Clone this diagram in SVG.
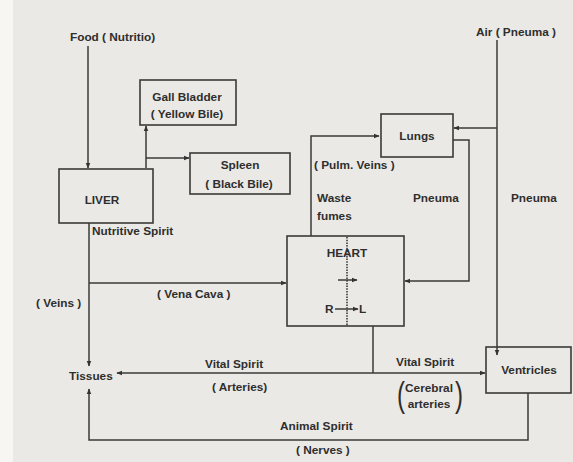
<svg xmlns="http://www.w3.org/2000/svg" width="573" height="462" viewBox="0 0 573 462">
<style>
.t{font-family:"Liberation Sans",Arial,sans-serif;font-weight:bold;font-size:11.8px;fill:#2e2e2e}
.c{text-anchor:middle}
.b{fill:none;stroke:#3a3a3a;stroke-width:1.6}
.l{fill:none;stroke:#3a3a3a;stroke-width:1.5}
.p{font-family:"Liberation Sans",Arial,sans-serif;font-weight:normal;font-size:24px;fill:#2e2e2e}
</style>
<defs>
<marker id="a" viewBox="0 0 10 10" refX="9" refY="5" markerWidth="6" markerHeight="6" markerUnits="userSpaceOnUse" orient="auto">
<path d="M0,1 L10,5 L0,9 Z" fill="#333"/>
</marker>
</defs>
<rect width="573" height="462" fill="#f7f6f3"/>
<rect x="13" y="0" width="560" height="462" fill="#ebe9e5"/>

<g id="connectors">
<path class="l" d="M88,46 V168" marker-end="url(#a)"/>
<path class="l" d="M146,168 V126" marker-end="url(#a)"/>
<path class="l" d="M146,158 H189" marker-end="url(#a)"/>
<path class="l" d="M89,223 V366" marker-end="url(#a)"/>
<path class="l" d="M89,283 H286" marker-end="url(#a)"/>
<path class="l" d="M373,326 V373"/>
<path class="l" d="M373,373 H117" marker-end="url(#a)"/>
<path class="l" d="M373,373 H485" marker-end="url(#a)"/>
<path class="l" d="M528,393 V440 H89 V389" marker-end="url(#a)"/>
<path class="l" d="M311,236 V136 H379" marker-end="url(#a)"/>
<path class="l" d="M453,140 H469 V281 H405" marker-end="url(#a)"/>
<path class="l" d="M497,40 V355" marker-end="url(#a)"/>
<path class="l" d="M497,128 H454" marker-end="url(#a)"/>
</g>

<g id="food"><text class="t" x="70" y="41">Food ( Nutritio)</text></g>
<g id="gall-bladder">
<rect class="b" x="140" y="80" width="96" height="45"/>
<text class="t c" x="187" y="101">Gall Bladder</text>
<text class="t c" x="187" y="118">( Yellow Bile)</text>
</g>
<g id="spleen">
<rect class="b" x="190" y="153" width="100" height="41"/>
<text class="t c" x="240" y="169">Spleen</text>
<text class="t c" x="239" y="188">( Black Bile)</text>
</g>
<g id="liver">
<rect class="b" x="59" y="169" width="94" height="54"/>
<text class="t c" x="102" y="204">LIVER</text>
</g>
<g id="labels-left">
<text class="t" x="92" y="235">Nutritive Spirit</text>
<text class="t" x="36" y="307">( Veins )</text>
<text class="t" x="157" y="298">( Vena Cava )</text>
<text class="t" x="205" y="368">Vital Spirit</text>
<text class="t" x="212" y="391">( Arteries)</text>
<text class="t" x="280" y="430">Animal Spirit</text>
<text class="t" x="296" y="454">( Nerves )</text>
</g>
<g id="tissues"><text class="t" x="69" y="380">Tissues</text></g>
<g id="heart">
<rect class="b" x="287" y="236" width="117" height="90"/>
<path d="M347,237 V325" fill="none" stroke="#3a3a3a" stroke-width="1.6" stroke-dasharray="1.5,1.2"/>
<text class="t c" x="347" y="257">HEART</text>
<path class="l" d="M338,280 H357" marker-end="url(#a)"/>
<text class="t" x="325" y="313">R</text>
<path class="l" d="M335,309 H358" marker-end="url(#a)"/>
<text class="t" x="359" y="313">L</text>
</g>
<g id="lungs">
<rect class="b" x="381" y="114" width="72" height="43"/>
<text class="t c" x="417" y="140">Lungs</text>
</g>
<g id="labels-right">
<text class="t" x="314" y="169">( Pulm. Veins )</text>
<text class="t" x="317" y="202">Waste</text>
<text class="t" x="317" y="220">fumes</text>
<text class="t" x="413" y="202">Pneuma</text>
<text class="t" x="511" y="202">Pneuma</text>
<text class="t" x="476" y="36">Air ( Pneuma )</text>
<text class="t" x="396" y="366">Vital Spirit</text>
<text class="p" transform="translate(397,407) scale(1,1.5)" x="0" y="0">(</text>
<text class="t c" x="429" y="392">Cerebral</text>
<text class="t c" x="429" y="408">arteries</text>
<text class="p" transform="translate(455,407) scale(1,1.5)" x="0" y="0">)</text>
</g>
<g id="ventricles">
<rect class="b" x="486" y="347" width="85" height="46"/>
<text class="t c" x="529" y="374">Ventricles</text>
</g>
</svg>
